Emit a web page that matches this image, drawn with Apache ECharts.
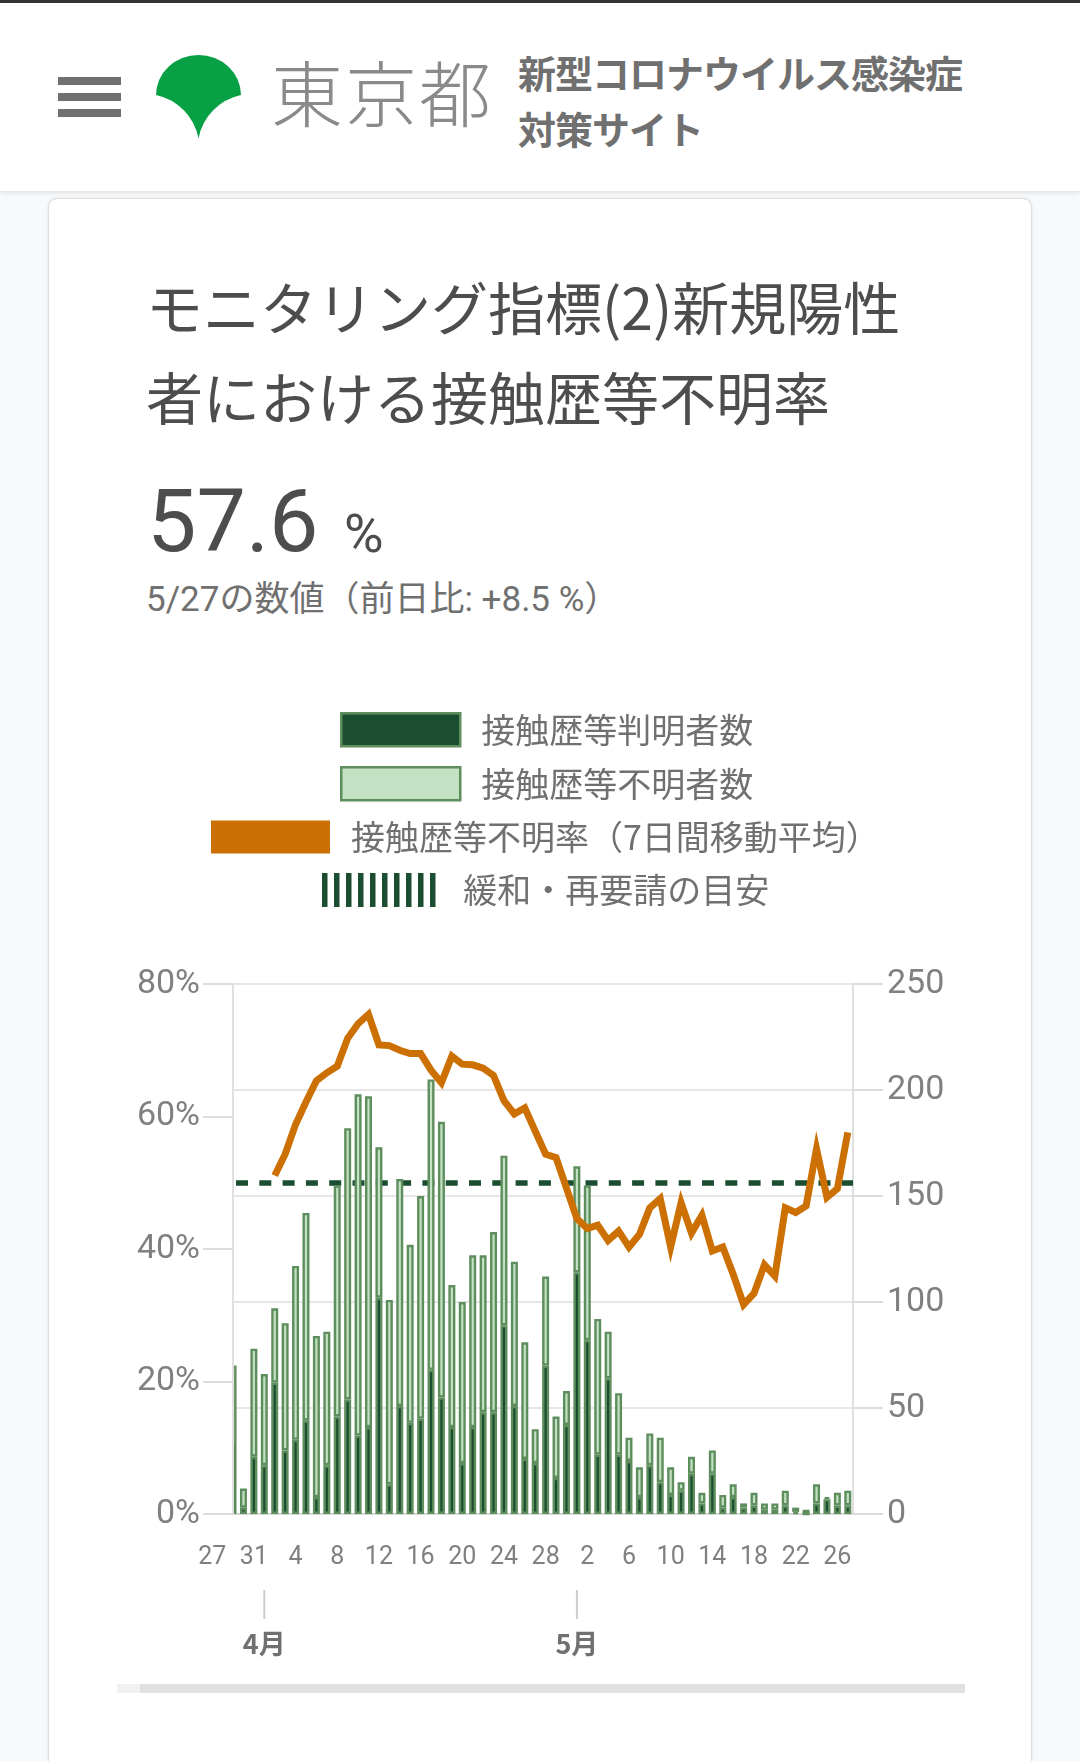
<!DOCTYPE html>
<html>
<head>
<meta charset="utf-8">
<script src="https://cdn.jsdelivr.net/npm/echarts@6/dist/echarts.min.js"></script>
<style>
html,body{margin:0;padding:0;width:1080px;height:1761px;overflow:hidden;background:#f8f9fa;font-family:'Noto Sans CJK JP',sans-serif;}
#header{position:absolute;left:0;top:0;width:1080px;height:191px;background:#fff;border-top:3px solid #333;box-sizing:border-box;box-shadow:0 2px 4px rgba(0,0,0,.10);z-index:2;}
.bar{position:absolute;left:58px;width:63px;height:8px;background:#707070;}
#tokyo{position:absolute;left:271px;top:37px;font-size:72px;line-height:100px;color:#8a8a8a;font-weight:300;letter-spacing:2px;white-space:nowrap;}
#site{position:absolute;left:518px;top:41px;font-size:38px;line-height:56px;color:#707070;font-weight:700;letter-spacing:-1px;white-space:nowrap;}
#card{position:absolute;left:49px;top:199px;width:982px;height:1620px;background:#fff;border-radius:8px;box-shadow:0 0 3px rgba(0,0,0,.28);}
#title{position:absolute;left:146px;top:260px;font-size:57px;line-height:90px;color:#4d4d4d;white-space:nowrap;}
#big{position:absolute;left:147px;top:477px;font-family:Roboto,'Noto Sans CJK JP',sans-serif;font-size:88px;line-height:88px;color:#4d4d4d;white-space:nowrap;}
#pct{position:absolute;left:344px;top:507px;font-family:Roboto,sans-serif;font-size:54px;line-height:54px;color:#4d4d4d;}
#sub{position:absolute;left:146px;top:582px;font-family:Roboto,'Noto Sans CJK JP',sans-serif;font-size:35px;line-height:35px;color:#707070;white-space:nowrap;}
#track{position:absolute;left:117px;top:1684px;width:848px;height:9px;background:#f1f1f1;}
#thumb{position:absolute;left:140px;top:1684px;width:825px;height:9px;background:#e0e0e0;}
#chart{position:absolute;left:0;top:0;width:1080px;height:1761px;z-index:3;}
</style>
</head>
<body>
<div id="header">
  <div class="bar" style="top:74px"></div>
  <div class="bar" style="top:90px"></div>
  <div class="bar" style="top:106px"></div>
  <svg style="position:absolute;left:0;top:-3px" width="300" height="191">
    <path d="M156,95 A42.5,40 0 0 1 241,95 A55,55 0 0 0 198.5,138.5 A55,55 0 0 0 156,95 Z" fill="#08a044"/>
  </svg>
  <div id="tokyo">東京都</div>
  <div id="site">新型コロナウイルス感染症<br>対策サイト</div>
</div>
<div id="card"></div>
<div id="title">モニタリング指標(2)新規陽性<br>者における接触歴等不明率</div>
<div id="big">57.6</div>
<div id="pct">%</div>
<div id="sub">5/27の数値（前日比: +8.5 %）</div>
<div id="track"></div>
<div id="thumb"></div>
<div id="chart"></div>
<script>
// ---- data ----
const dates = ['3/27','3/28','3/29','3/30','3/31',
  '4/1','4/2','4/3','4/4','4/5','4/6','4/7','4/8','4/9','4/10',
  '4/11','4/12','4/13','4/14','4/15','4/16','4/17','4/18','4/19','4/20',
  '4/21','4/22','4/23','4/24','4/25','4/26','4/27','4/28','4/29','4/30',
  '5/1','5/2','5/3','5/4','5/5','5/6','5/7','5/8','5/9','5/10',
  '5/11','5/12','5/13','5/14','5/15','5/16','5/17','5/18','5/19','5/20',
  '5/21','5/22','5/23','5/24','5/25','5/26','5/27'];

// 接触歴等判明者数
const knownCounts = [25,35,33,3,27,
  23,62,30,35,44,8,23,46,54,37,
  41,102,14,51,43,45,68,55,41,24,
  41,48,48,89,51,26,24,70,17,42,
  114,82,28,64,28,25,8,23,15,9,
  11,19,5,19,3,8,3,4,2,2,
  4,1,0,5,7,4,4];

// 接触歴等不明者数
const unknownCounts = [15,28,37,9,51,
  43,35,60,82,98,76,63,109,128,161,
  156,71,87,107,84,105,137,130,67,76,
  81,74,85,80,68,55,16,42,29,16,
  50,73,64,22,29,11,14,15,21,13,
  4,8,5,11,6,6,2,6,3,3,
  7,2,2,9,1,6,7];

// 接触歴等不明率（7日間移動平均） %
const unknownRate = [null,null,null,null,null,
  null,51.1,54.3,58.8,62.2,65.4,66.6,67.6,71.8,74.0,
  75.4,70.8,70.7,70.0,69.5,69.5,67.0,65.1,69.1,67.9,
  67.8,67.3,66.2,62.4,60.4,61.3,57.8,54.3,53.8,49.2,
  44.6,43.1,43.6,41.3,42.7,40.3,42.2,46.2,47.6,40.3,
  47.0,42.4,45.1,39.7,40.3,36.2,31.6,33.3,37.6,35.9,
  46.2,45.5,46.5,55.1,47.8,49.1,57.6];

// 緩和・再要請の目安 (%)
const threshold = 50;

const rateTicks = {min: 0, max: 80, interval: 20};
const countTicks = {min: 0, max: 250, interval: 50};

// ---- chart ----
const NAMES = ['接触歴等判明者数','接触歴等不明者数','接触歴等不明率（7日間移動平均）','緩和・再要請の目安'];
const DARK = '#1B4D30', LIGHT = '#C3E1C3', ORANGE = '#CC7004', EDGE = '#5E8E5E';
const FONT = "Roboto, 'Noto Sans CJK JP', sans-serif";
const JP = "'Noto Sans CJK JP', sans-serif";
const isMonthStart = (i, v) => v.split('/')[1] === '1';

function stripes() {
  let p = 'path://';
  for (let i = 0; i < 10; i++) { const x = i * 12; p += 'M' + x + ',0h5.5v34h-5.5z'; }
  return p;
}
const legendText = {fontSize: 34, color: '#707070', fontFamily: JP, padding: [0, 0, 0, 16]};
function legend(name, left, top, extra) {
  return Object.assign({
    data: [name], left: left, top: top, padding: 0, itemWidth: 119, itemHeight: 33,
    selectedMode: false, textStyle: legendText
  }, extra);
}

const chart = echarts.init(document.getElementById('chart'), null, {renderer: 'canvas'});
chart.setOption({
  animation: false,
  legend: [
    legend(NAMES[0], 340, 712, {icon: 'rect', itemStyle: {color: DARK, borderColor: EDGE, borderWidth: 2.5}}),
    legend(NAMES[1], 340, 766, {icon: 'rect', itemStyle: {color: LIGHT, borderColor: EDGE, borderWidth: 2.5}}),
    legend(NAMES[2], 211, 820, {icon: 'rect', itemStyle: {color: ORANGE, borderWidth: 0}}),
    legend(NAMES[3], 322, 873, {icon: stripes(), itemWidth: 115, itemHeight: 34,
      itemStyle: {color: DARK, borderWidth: 0}, textStyle: Object.assign({}, legendText, {padding: [0, 0, 0, 22]})})
  ],
  grid: {left: 207, top: 984, width: 646, height: 530, containLabel: false},
  xAxis: [{
    type: 'category', data: dates, position: 'bottom',
    axisLine: {show: true, lineStyle: {color: '#d6d6d6', width: 2}},
    axisTick: {show: false},
    axisLabel: {interval: 3, color: '#808080', fontSize: 25,
      fontFamily: FONT, margin: 31, formatter: v => v.split('/')[1]}
  }, {
    type: 'category', data: dates, position: 'bottom',
    axisLine: {show: false},
    axisTick: {show: false},
    axisLabel: {
      interval: isMonthStart, margin: 76,
      formatter: v => '{t|}\n{m|' + v.split('/')[0] + '月}',
      rich: {
        t: {width: 2, height: 29, backgroundColor: '#cccccc'},
        m: {fontSize: 27, lineHeight: 27, fontWeight: 'bold', color: '#707070', fontFamily: JP, padding: [23, 0, 0, 0]}
      }
    },
    splitLine: {show: false}
  }],
  yAxis: [{
    type: 'value', position: 'left', offset: -26, z: 4,
    min: rateTicks.min, max: rateTicks.max, interval: rateTicks.interval,
    axisLine: {show: true, lineStyle: {color: '#e0e0e0', width: 2}},
    axisTick: {show: true, length: 30, lineStyle: {color: '#dcdcdc', width: 2}},
    axisLabel: {formatter: '{value}%', color: '#808080', fontSize: 34, margin: 33, fontFamily: FONT},
    splitLine: {show: false}
  }, {
    type: 'value', position: 'right',
    min: countTicks.min, max: countTicks.max, interval: countTicks.interval,
    axisLine: {show: true, lineStyle: {color: '#e0e0e0', width: 2}},
    axisTick: {show: true, length: 30, lineStyle: {color: '#dcdcdc', width: 2}},
    axisLabel: {color: '#808080', fontSize: 34, margin: 34, fontFamily: FONT},
    splitLine: {show: true, lineStyle: {color: '#e6e6e6', width: 2}}
  }],
  graphic: [{
    type: 'rect', z: 3, silent: true,
    shape: {x: 195, y: 975, width: 37.5, height: 541},
    style: {fill: '#ffffff'}
  }],
  series: [{
    name: NAMES[0], type: 'bar', stack: 'cnt', yAxisIndex: 1, data: knownCounts,
    barWidth: 7, itemStyle: {color: DARK, borderColor: EDGE, borderWidth: 2.4}
  }, {
    name: NAMES[1], type: 'bar', stack: 'cnt', yAxisIndex: 1, data: unknownCounts,
    barWidth: 7, itemStyle: {color: LIGHT, borderColor: EDGE, borderWidth: 2.4}
  }, {
    name: NAMES[3], type: 'line', yAxisIndex: 0, data: [], color: DARK,
    itemStyle: {color: DARK}, lineStyle: {color: DARK},
    markLine: {
      z: 2, silent: true, symbol: ['none', 'none'], label: {show: false}, animation: false,
      lineStyle: {color: DARK, width: 5.5, type: [12, 11.3], dashOffset: 17.6},
      emphasis: {disabled: true},
      data: [{yAxis: threshold}]
    }
  }, {
    name: NAMES[2], type: 'line', yAxisIndex: 0, data: unknownRate, color: ORANGE,
    symbol: 'none', connectNulls: false,
    itemStyle: {color: ORANGE},
    lineStyle: {color: ORANGE, width: 7, join: 'miter'}
  }]
});
</script>
</body>
</html>
